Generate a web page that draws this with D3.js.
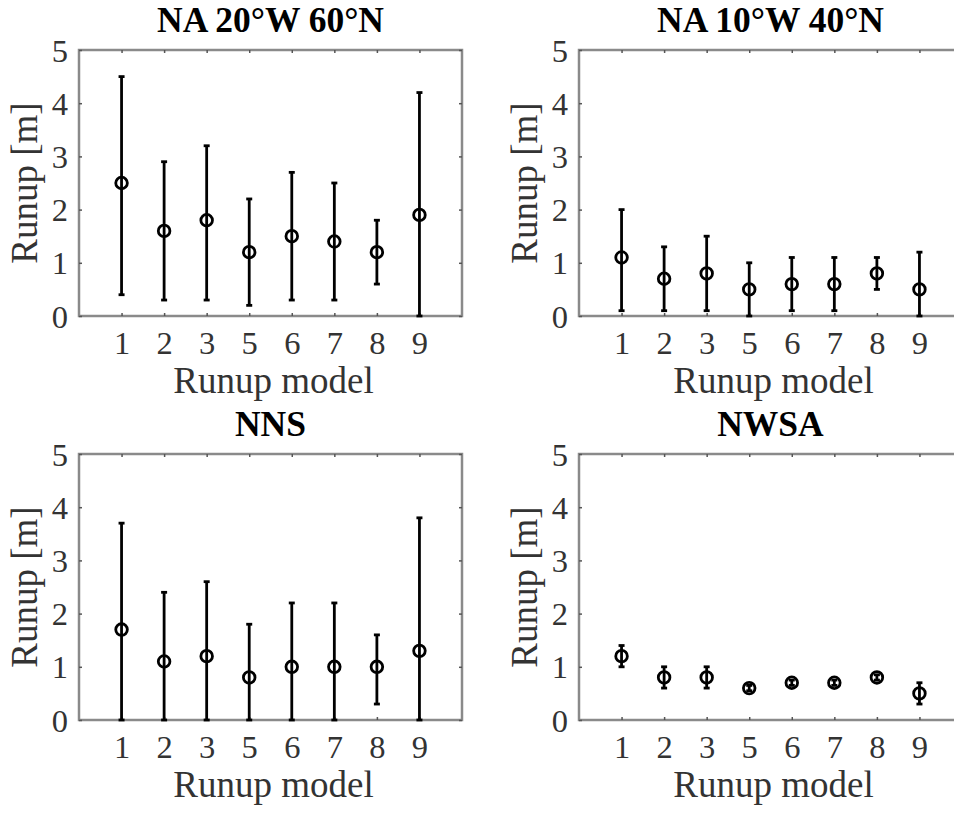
<!DOCTYPE html>
<html>
<head>
<meta charset="utf-8">
<script src="https://cdn.jsdelivr.net/npm/d3@7"></script>
<style>
  body { margin: 0; background: #fff; }
  svg { display: block; font-family: "Liberation Serif", "Times New Roman", serif; }
</style>
</head>
<body>
<svg id="chart" width="954" height="813"></svg>
<script>
const models = ['1', '2', '3', '5', '6', '7', '8', '9'];
const yTicks = [0, 1, 2, 3, 4, 5];
const titles = ['NA 20\u00B0W 60\u00B0N', 'NA 10\u00B0W 40\u00B0N', 'NNS', 'NWSA'];

// runup: central value, lower end, upper end of bar
const na20Mid = [2.5, 1.6, 1.8, 1.2, 1.5, 1.4, 1.2, 1.9];
const na20Lo  = [0.4, 0.3, 0.3, 0.2, 0.3, 0.3, 0.6, 0.0];
const na20Hi  = [4.5, 2.9, 3.2, 2.2, 2.7, 2.5, 1.8, 4.2];

const na10Mid = [1.1, 0.7, 0.8, 0.5, 0.6, 0.6, 0.8, 0.5];
const na10Lo  = [0.1, 0.1, 0.1, 0.0, 0.1, 0.1, 0.5, 0.0];
const na10Hi  = [2.0, 1.3, 1.5, 1.0, 1.1, 1.1, 1.1, 1.2];

const nnsMid = [1.7, 1.1, 1.2, 0.8, 1.0, 1.0, 1.0, 1.3];
const nnsLo  = [0.0, 0.0, 0.0, 0.0, 0.0, 0.0, 0.3, 0.0];
const nnsHi  = [3.7, 2.4, 2.6, 1.8, 2.2, 2.2, 1.6, 3.8];

const nwsaMid = [1.2, 0.8, 0.8, 0.6, 0.7, 0.7, 0.8, 0.5];
const nwsaLo  = [1.0, 0.6, 0.6, 0.55, 0.65, 0.65, 0.75, 0.3];
const nwsaHi  = [1.4, 1.0, 1.0, 0.65, 0.75, 0.75, 0.85, 0.7];

const panels = [
  { title: titles[0], mid: na20Mid, lo: na20Lo, hi: na20Hi, left: 79, top: 50 },
  { title: titles[1], mid: na10Mid, lo: na10Lo, hi: na10Hi, left: 579, top: 50 },
  { title: titles[2], mid: nnsMid, lo: nnsLo, hi: nnsHi, left: 79, top: 454 },
  { title: titles[3], mid: nwsaMid, lo: nwsaLo, hi: nwsaHi, left: 579, top: 454 }
];

const w = 383, h = 266;
const svg = d3.select('#chart');

panels.forEach(p => {
  const g = svg.append('g').attr('transform', `translate(${p.left},${p.top})`);

  const x = d3.scalePoint().domain(models).range([0, w]).padding(1);
  const y = d3.scaleLinear().domain([0, 5]).range([h, 0]);

  // frame
  g.append('rect')
    .attr('width', w).attr('height', h)
    .attr('fill', 'none')
    .attr('stroke', '#8a8a8a')
    .attr('stroke-width', 2.5);

  // axes, ticks inward
  const bottom = g.append('g').attr('transform', `translate(0,${h})`)
    .call(d3.axisBottom(x).tickSize(-3));
  bottom.selectAll('text').attr('y', 38).attr('dy', null);

  const leftAx = g.append('g')
    .call(d3.axisLeft(y).tickValues(yTicks).tickFormat(d3.format('d')).tickSize(-3).tickPadding(11));
  leftAx.selectAll('text').attr('dy', '0.34em');

  g.append('g').call(d3.axisTop(x).tickSize(-3).tickFormat(''));
  g.append('g').attr('transform', `translate(${w},0)`)
    .call(d3.axisRight(y).tickValues(yTicks).tickSize(-3).tickFormat(''));

  g.selectAll('.domain').remove();
  g.selectAll('.tick line').attr('stroke', '#555').attr('stroke-width', 1.5);
  g.selectAll('.tick text')
    .attr('fill', '#333')
    .style('font-size', '32.5px')
    .style('font-family', '"Liberation Serif", "Times New Roman", serif');

  // error bars
  const rows = models.map((m, i) => ({ m, mid: p.mid[i], lo: p.lo[i], hi: p.hi[i] }));
  const bars = g.append('g').attr('stroke', '#000').attr('stroke-width', 2.8).attr('fill', 'none');

  bars.selectAll('line.bar').data(rows).join('line')
    .attr('class', 'bar')
    .attr('x1', d => x(d.m)).attr('x2', d => x(d.m))
    .attr('y1', d => y(d.lo)).attr('y2', d => y(d.hi));

  bars.selectAll('line.capHi').data(rows).join('line')
    .attr('class', 'capHi')
    .attr('x1', d => x(d.m) - 3).attr('x2', d => x(d.m) + 3)
    .attr('y1', d => y(d.hi)).attr('y2', d => y(d.hi));

  bars.selectAll('line.capLo').data(rows).join('line')
    .attr('class', 'capLo')
    .attr('x1', d => x(d.m) - 3).attr('x2', d => x(d.m) + 3)
    .attr('y1', d => y(d.lo)).attr('y2', d => y(d.lo));

  bars.selectAll('circle').data(rows).join('circle')
    .attr('cx', d => x(d.m))
    .attr('cy', d => y(d.mid))
    .attr('r', 5.8);

  // labels
  g.append('text')
    .attr('x', w / 2).attr('y', -18)
    .attr('text-anchor', 'middle')
    .attr('font-weight', 'bold')
    .attr('font-size', 35.5)
    .attr('fill', '#000')
    .text(p.title);

  g.append('text')
    .attr('x', w / 2 + 3).attr('y', h + 77)
    .attr('text-anchor', 'middle')
    .attr('font-size', 37)
    .attr('fill', '#333')
    .text('Runup model');

  g.append('text')
    .attr('transform', `translate(-42,${h / 2}) rotate(-90)`)
    .attr('text-anchor', 'middle')
    .attr('font-size', 37)
    .attr('fill', '#333')
    .text('Runup [m]');
});
</script>
</body>
</html>
